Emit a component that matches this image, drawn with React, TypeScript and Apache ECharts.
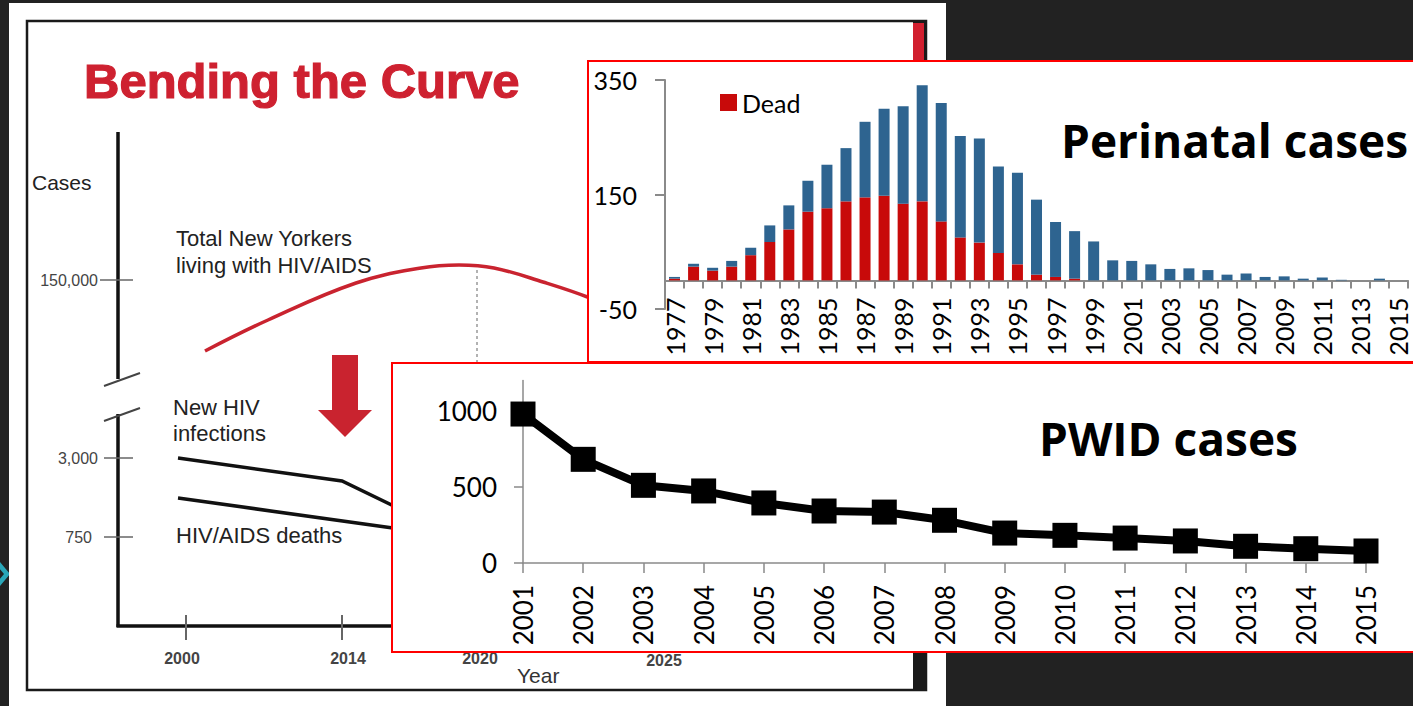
import React, { useEffect, useRef } from "react";
import * as echarts from "echarts";

// ---- Perinatal cases (stacked bars) ----
const perinatalYears = [
  "1977", "1978", "1979", "1980", "1981", "1982", "1983", "1984", "1985", "1986",
  "1987", "1988", "1989", "1990", "1991", "1992", "1993", "1994", "1995", "1996",
  "1997", "1998", "1999", "2000", "2001", "2002", "2003", "2004", "2005", "2006",
  "2007", "2008", "2009", "2010", "2011", "2012", "2013", "2014", "2015",
];
const perinatalDead = [
  3, 24, 17, 24, 44, 67, 89, 120, 126, 138, 145, 148, 134, 138, 103, 75, 66, 48, 28, 10,
  6, 3, 0, 0, 0, 0, 0, 0, 0, 0, 0, 0, 0, 0, 0, 0, 0, 0, 0,
];
const perinatalOther = [
  3, 5, 5, 10, 13, 29, 42, 54, 76, 93, 132, 152, 170, 203, 207, 177, 182, 151, 160, 131,
  96, 83, 68, 35, 34, 28, 20, 21, 18, 10, 12, 6, 7, 3, 5, 1, 0, 3, 0,
];
const perinatalTicks = [-50, 150, 350];

// ---- PWID cases (line) ----
const pwidYears = [
  "2001", "2002", "2003", "2004", "2005", "2006", "2007", "2008",
  "2009", "2010", "2011", "2012", "2013", "2014", "2015",
];
const pwidCases = [980, 682, 511, 474, 395, 342, 335, 281, 197, 182, 164, 145, 110, 94, 79];
const pwidTicks = [0, 500, 1000];

// ---- background slide texts ----
const slideTitle = "Bending the Curve";
const diagramYLabels = ["150,000", "3,000", "750"];
const diagramXLabels = ["2000", "2014", "2020", "2025"];

const SANS = '"Liberation Sans", Arial, sans-serif';
const AXF = "Lato, sans-serif";
const TITLEF = '"Open Sans", sans-serif';

function txt(x: number, y: number, text: string, font: string, fill: string, align = "left", z = 1, extra: any = {}) {
  return {
    type: "text",
    x,
    y,
    z,
    silent: true,
    style: { text, font, fill, align, verticalAlign: "middle", ...extra },
  };
}
function ln(x1: number, y1: number, x2: number, y2: number, stroke: string, lineWidth: number, z = 1, extra: any = {}) {
  return {
    type: "line",
    z,
    silent: true,
    shape: { x1, y1, x2, y2 },
    style: { stroke, lineWidth, ...extra },
  };
}

export default function App() {
  const ref = useRef<HTMLDivElement>(null);

  useEffect(() => {
    if (!ref.current) return;
    const chart = echarts.init(ref.current, undefined, { renderer: "svg" });

    const red = "#C9232F";
    const graphic: any[] = [
      // teal arrow on dark background
      { type: "polygon", z: 0, silent: true, shape: { points: [[-6, 562], [0, 562], [10, 574], [0, 586], [-6, 586], [4, 574]] }, style: { fill: "#2AA6B8" } },
      // white slide
      { type: "rect", z: 0, silent: true, shape: { x: 9, y: 3, width: 937, height: 710 }, style: { fill: "#ffffff" } },
      // frame
      { type: "rect", z: 1, silent: true, shape: { x: 27, y: 21, width: 899, height: 669 }, style: { fill: "none", stroke: "#1a1a1a", lineWidth: 2.5 } },
      { type: "rect", z: 1, silent: true, shape: { x: 913, y: 20, width: 14, height: 671 }, style: { fill: "#1a1a1a" } },
      { type: "rect", z: 1, silent: true, shape: { x: 913, y: 23, width: 11, height: 330 }, style: { fill: "#D11F2F" } },
      txt(84, 81, slideTitle, `bold 49px ${SANS}`, "#CE2130", "left", 1, { stroke: "#CE2130", lineWidth: 1.2 }),
      // diagram axes
      ln(118, 132, 118, 379, "#111", 3.5),
      ln(118, 414, 118, 627, "#111", 3.5),
      ln(116.5, 626, 900, 626, "#111", 3.5),
      ln(104, 386, 140, 373, "#444", 2),
      ln(104, 421, 140, 408, "#444", 2),
      ln(100, 280, 133, 280, "#666", 1.5),
      ln(104, 458, 133, 458, "#666", 1.5),
      ln(104, 537, 133, 537, "#666", 1.5),
      ln(186, 615, 186, 640, "#666", 2),
      ln(342, 615, 342, 640, "#666", 2),
      ln(480, 615, 480, 640, "#666", 2),
      txt(32, 182, "Cases", `21px ${SANS}`, "#222"),
      txt(98, 280, diagramYLabels[0], `16px ${SANS}`, "#444", "right"),
      txt(98, 458, diagramYLabels[1], `16px ${SANS}`, "#444", "right"),
      txt(92, 537, diagramYLabels[2], `16px ${SANS}`, "#444", "right"),
      txt(182, 658, diagramXLabels[0], `bold 16px ${SANS}`, "#444", "center"),
      txt(348, 658, diagramXLabels[1], `bold 16px ${SANS}`, "#444", "center"),
      txt(480, 658, diagramXLabels[2], `bold 16px ${SANS}`, "#444", "center"),
      txt(664, 660, diagramXLabels[3], `bold 16px ${SANS}`, "#444", "center"),
      txt(517, 675, "Year", `21px ${SANS}`, "#333"),
      txt(176, 238, "Total New Yorkers", `22px ${SANS}`, "#222"),
      txt(176, 265, "living with HIV/AIDS", `22px ${SANS}`, "#222"),
      txt(173, 407, "New HIV", `22px ${SANS}`, "#222"),
      txt(173, 433, "infections", `22px ${SANS}`, "#222"),
      txt(176, 535, "HIV/AIDS deaths", `22px ${SANS}`, "#222"),
      {
        type: "polyline", z: 1, silent: true,
        shape: { smooth: 0.4, points: [[205, 351], [268, 320], [356, 283], [421, 268], [459, 265], [494, 268], [543, 282], [590, 298], [630, 316]] },
        style: { stroke: red, lineWidth: 3.5, fill: "none" },
      },
      { type: "polyline", z: 1, silent: true, shape: { points: [[178, 458], [342, 481], [400, 509]] }, style: { stroke: "#111", lineWidth: 3.5, fill: "none" } },
      { type: "polyline", z: 1, silent: true, shape: { points: [[178, 498], [400, 529]] }, style: { stroke: "#111", lineWidth: 3.5, fill: "none" } },
      ln(477, 270, 477, 364, "#999", 1.5, 1, { lineDash: [3, 3] }),
      { type: "polygon", z: 1, silent: true, shape: { points: [[332, 355], [358, 355], [358, 410], [372, 410], [345, 437], [318, 410], [332, 410]] }, style: { fill: red } },
      // chart boxes
      { type: "rect", z: 2, silent: true, shape: { x: 588, y: 61, width: 826, height: 301 }, style: { fill: "#ffffff", stroke: "#FF0000", lineWidth: 2 } },
      { type: "rect", z: 2, silent: true, shape: { x: 392, y: 363, width: 1022, height: 289 }, style: { fill: "#ffffff", stroke: "#FF0000", lineWidth: 2 } },
      txt(1061, 140, "Perinatal cases", `bold 46px ${TITLEF}`, "#000", "left", 7),
      txt(1039, 438, "PWID cases", `bold 46px ${TITLEF}`, "#000", "left", 7),
    ];

    const axisGray = "#8a8a8a";
    const option: any = {
      animation: false,
      backgroundColor: "#222222",
      textStyle: { fontFamily: AXF },
      graphic: { elements: graphic },
      legend: {
        data: ["Dead"],
        left: 715,
        top: 85,
        icon: "rect",
        itemWidth: 17,
        itemHeight: 17,
        z: 6,
        selectedMode: false,
        textStyle: { fontSize: 25, color: "#000", fontFamily: AXF },
      },
      grid: [
        { left: 665, top: 80, width: 743, height: 229 },
        { left: 523, top: 380.6, width: 843, height: 182.4 },
      ],
      xAxis: [
        {
          gridIndex: 0,
          type: "category",
          data: perinatalYears,
          z: 4,
          offset: -28.6,
          axisLine: { show: true, onZero: false, lineStyle: { color: axisGray, width: 2 } },
          axisTick: { show: true, interval: 0, length: 8, lineStyle: { color: axisGray, width: 2 } },
          axisLabel: { interval: 1, rotate: 90, fontSize: 25, color: "#000", margin: 17, fontFamily: AXF },
          splitLine: { show: false },
        },
        {
          gridIndex: 1,
          type: "category",
          data: pwidYears,
          boundaryGap: false,
          z: 4,
          axisLine: { show: true, lineStyle: { color: axisGray, width: 1.5 } },
          axisTick: { show: true, interval: 0, length: 10, lineStyle: { color: axisGray, width: 1.5 } },
          axisLabel: { interval: 0, rotate: 90, fontSize: 26, color: "#000", margin: 22, fontFamily: AXF },
          splitLine: { show: false },
        },
      ],
      yAxis: [
        {
          gridIndex: 0,
          type: "value",
          min: -50,
          max: 350,
          interval: 200,
          z: 4,
          axisLine: { show: true, lineStyle: { color: axisGray, width: 2 } },
          axisTick: { show: true, length: 10, lineStyle: { color: axisGray, width: 2 } },
          axisLabel: { fontSize: 25, color: "#000", margin: 28, fontFamily: AXF, customValues: perinatalTicks, formatter: (v: number) => String(v) },
          splitLine: { show: false },
        },
        {
          gridIndex: 1,
          type: "value",
          min: 0,
          max: 1200,
          interval: 500,
          z: 4,
          axisLine: { show: true, lineStyle: { color: axisGray, width: 1.5 } },
          axisTick: { show: true, length: 9, lineStyle: { color: axisGray, width: 1.5 }, customValues: pwidTicks },
          axisLabel: { fontSize: 26, color: "#000", margin: 26, fontFamily: AXF, customValues: pwidTicks, formatter: (v: number) => String(v) },
          splitLine: { show: false },
        },
      ],
      series: [
        {
          name: "Dead",
          type: "bar",
          stack: "perinatal",
          xAxisIndex: 0,
          yAxisIndex: 0,
          barWidth: 11,
          z: 5,
          data: perinatalDead,
          itemStyle: { color: "#C80A0A" },
        },
        {
          name: "Living",
          type: "bar",
          stack: "perinatal",
          xAxisIndex: 0,
          yAxisIndex: 0,
          barWidth: 11,
          z: 5,
          data: perinatalOther,
          itemStyle: { color: "#2E6490" },
        },
        {
          name: "PWID",
          type: "line",
          xAxisIndex: 1,
          yAxisIndex: 1,
          z: 5,
          data: pwidCases,
          symbol: "rect",
          symbolSize: 25,
          lineStyle: { color: "#000", width: 8 },
          itemStyle: { color: "#000" },
        },
      ],
    };

    chart.setOption(option);
    return () => chart.dispose();
  }, []);

  return (
    <div
      ref={ref}
      style={{ position: "fixed", left: 0, top: 0, width: 1413, height: 706 }}
    />
  );
}
